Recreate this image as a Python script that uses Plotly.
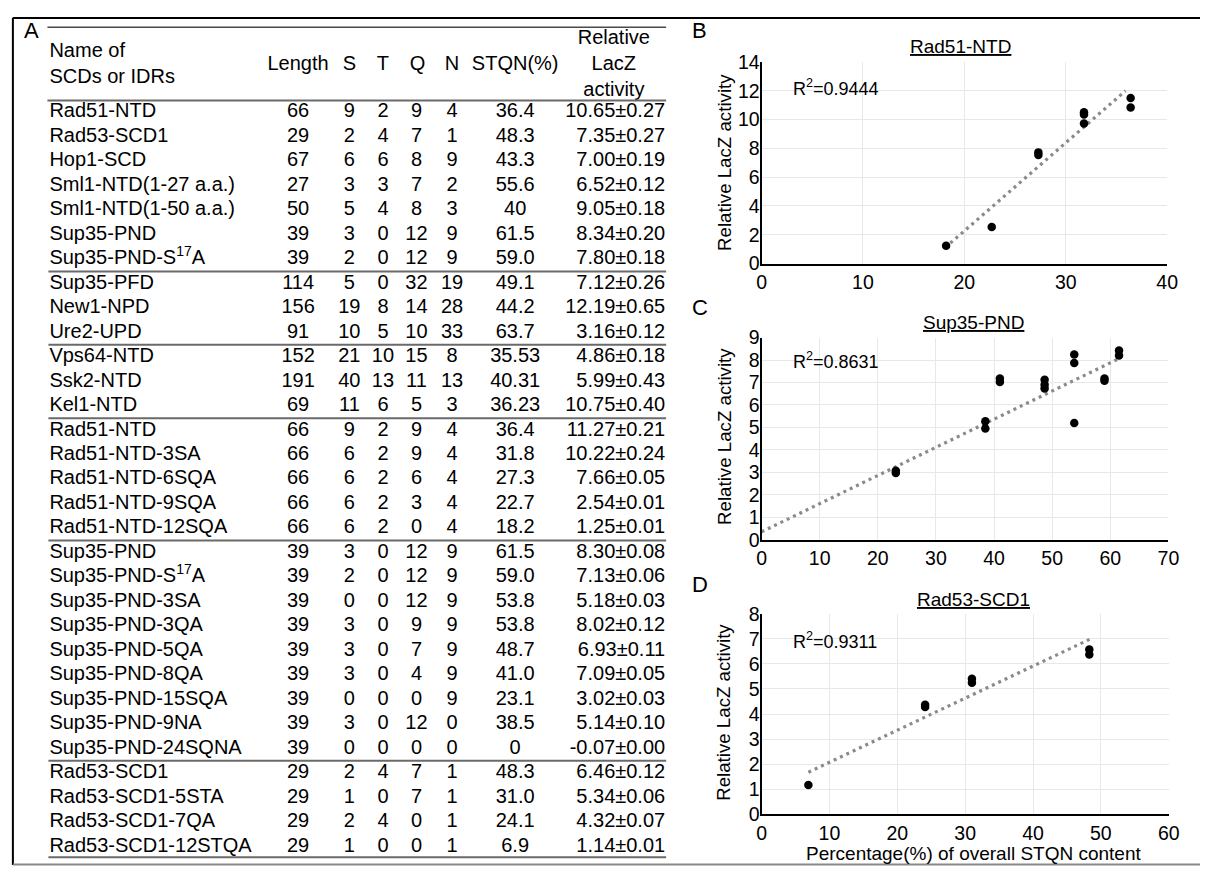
import plotly.graph_objects as go

W, H = 1211, 877
FONT = "Arial, 'Liberation Sans', Helvetica, sans-serif"

# ---------------- table data (panel A) ----------------
names = ["Rad51-NTD", "Rad53-SCD1", "Hop1-SCD", "Sml1-NTD(1-27 a.a.)", "Sml1-NTD(1-50 a.a.)",
         "Sup35-PND", "Sup35-PND-S<sup>17</sup>A",
         "Sup35-PFD", "New1-NPD", "Ure2-UPD",
         "Vps64-NTD", "Ssk2-NTD", "Kel1-NTD",
         "Rad51-NTD", "Rad51-NTD-3SA", "Rad51-NTD-6SQA", "Rad51-NTD-9SQA", "Rad51-NTD-12SQA",
         "Sup35-PND", "Sup35-PND-S<sup>17</sup>A", "Sup35-PND-3SA", "Sup35-PND-3QA", "Sup35-PND-5QA",
         "Sup35-PND-8QA", "Sup35-PND-15SQA", "Sup35-PND-9NA", "Sup35-PND-24SQNA",
         "Rad53-SCD1", "Rad53-SCD1-5STA", "Rad53-SCD1-7QA", "Rad53-SCD1-12STQA"]
length = [66, 29, 67, 27, 50, 39, 39, 114, 156, 91, 152, 191, 69, 66, 66, 66, 66, 66,
          39, 39, 39, 39, 39, 39, 39, 39, 39, 29, 29, 29, 29]
s_cnt = [9, 2, 6, 3, 5, 3, 2, 5, 19, 10, 21, 40, 11, 9, 6, 6, 6, 6,
         3, 2, 0, 3, 3, 3, 0, 3, 0, 2, 1, 2, 1]
t_cnt = [2, 4, 6, 3, 4, 0, 0, 0, 8, 5, 10, 13, 6, 2, 2, 2, 2, 2,
         0, 0, 0, 0, 0, 0, 0, 0, 0, 4, 0, 4, 0]
q_cnt = [9, 7, 8, 7, 8, 12, 12, 32, 14, 10, 15, 11, 5, 9, 9, 6, 3, 0,
         12, 12, 12, 9, 7, 4, 0, 12, 0, 7, 7, 0, 0]
n_cnt = [4, 1, 9, 2, 3, 9, 9, 19, 28, 33, 8, 13, 3, 4, 4, 4, 4, 4,
         9, 9, 9, 9, 9, 9, 9, 0, 0, 1, 1, 1, 1]
stqn = ["36.4", "48.3", "43.3", "55.6", "40", "61.5", "59.0", "49.1", "44.2", "63.7",
        "35.53", "40.31", "36.23", "36.4", "31.8", "27.3", "22.7", "18.2",
        "61.5", "59.0", "53.8", "53.8", "48.7", "41.0", "23.1", "38.5", "0",
        "48.3", "31.0", "24.1", "6.9"]
lacz = ["10.65±0.27", "7.35±0.27", "7.00±0.19", "6.52±0.12", "9.05±0.18", "8.34±0.20", "7.80±0.18",
        "7.12±0.26", "12.19±0.65", "3.16±0.12", "4.86±0.18", "5.99±0.43", "10.75±0.40",
        "11.27±0.21", "10.22±0.24", "7.66±0.05", "2.54±0.01", "1.25±0.01",
        "8.30±0.08", "7.13±0.06", "5.18±0.03", "8.02±0.12", "6.93±0.11", "7.09±0.05",
        "3.02±0.03", "5.14±0.10", "-0.07±0.00",
        "6.46±0.12", "5.34±0.06", "4.32±0.07", "1.14±0.01"]
group_ends = [7, 10, 13, 18, 27]   # rows after which a separator is drawn

# ---------------- scatter data (panels B, C, D) ----------------
B_x = [18.2, 22.7, 27.3, 27.3, 31.8, 31.8, 31.8, 36.4, 36.4]
B_y = [1.24, 2.53, 7.72, 7.54, 10.5, 10.36, 9.73, 11.49, 10.84]
B_trend_x = [18.1, 35.9]
B_trend_y = [1.1, 12.0]

C_x = [0, 23.1, 23.1, 38.5, 38.5, 41.0, 41.0, 48.7, 48.7, 48.7, 53.8, 53.8, 53.8, 59.0, 59.0, 61.5, 61.5]
C_y = [-0.07, 3.07, 2.97, 5.27, 4.95, 7.18, 7.02, 7.12, 6.90, 6.73, 8.25, 7.87, 5.20, 7.18, 7.08, 8.42, 8.20]
C_trend_x = [0, 61.7]
C_trend_y = [0.35, 8.09]

D_x = [6.9, 24.1, 24.1, 31.0, 31.0, 48.3, 48.3]
D_y = [1.17, 4.37, 4.28, 5.41, 5.25, 6.58, 6.38]
D_trend_x = [6.9, 48.5]
D_trend_y = [1.68, 7.0]

titles = ["Rad51-NTD", "Sup35-PND", "Rad53-SCD1"]
r2_labels = ["R<sup>2</sup>=0.9444", "R<sup>2</sup>=0.8631", "R<sup>2</sup>=0.9311"]
x_ranges = [[0, 40], [0, 70], [0, 60]]
y_ranges = [[0, 14], [0, 9], [0, 8]]
y_dticks = [2, 1, 1]
ytitle = "Relative LacZ activity"
xtitle = "Percentage(%) of overall STQN content"


def pxx(p):
    return p / W


def pxy(p):
    return 1 - p / H


fig = go.Figure()

# ---------------- panels B, C, D ----------------
panels = [
    (B_x, B_y, B_trend_x, B_trend_y),
    (C_x, C_y, C_trend_x, C_trend_y),
    (D_x, D_y, D_trend_x, D_trend_y),
]
# pixel geometry of plot areas: (left, right, top, bottom)
geom = [(766.7, 1177.7, 52.3, 259.0), (766.7, 1179.0, 335.0, 542.3), (766.7, 1179.3, 618.3, 824.0)]
title_pos = [(968.8, 36), (981.7, 320), (981.7, 604)]
r2_pos = [(796.7, 78), (796.7, 358), (796.7, 646)]
ytitle_y = [155, 436, 719]
letters = [("B", 704, 20), ("C", 704, 304), ("D", 704, 588)]

axis_common = dict(showgrid=True, gridcolor="#e8e8e8", gridwidth=1, showline=True,
                   linecolor="black", linewidth=2, ticks="", zeroline=False,
                   tickfont=dict(size=19.5, family=FONT, color="black"), fixedrange=True)

annotations = []
for i, (px_, py_, tx, ty) in enumerate(panels):
    sfx = "" if i == 0 else str(i + 1)
    xa, ya = "x" + sfx, "y" + sfx
    fig.add_trace(go.Scatter(x=tx, y=ty, mode="lines",
                             line=dict(color="#8a8a8a", width=3.2, dash="3px,4px"),
                             xaxis=xa, yaxis=ya, showlegend=False, hoverinfo="skip"))
    fig.add_trace(go.Scatter(x=px_, y=py_, mode="markers",
                             marker=dict(color="black", size=8.5),
                             cliponaxis=False, xaxis=xa, yaxis=ya, showlegend=False))
    l, r, t, b = geom[i]
    fig.layout["xaxis" + sfx] = dict(axis_common, domain=[pxx(l), pxx(r)], range=x_ranges[i],
                                      dtick=10, anchor=ya)
    fig.layout["yaxis" + sfx] = dict(axis_common, domain=[pxy(b), pxy(t)], range=y_ranges[i],
                                      dtick=y_dticks[i], anchor=xa, ticklabelstandoff=-4)
    annotations.append(dict(text="<u>" + titles[i] + "</u>", x=pxx(title_pos[i][0]), y=pxy(title_pos[i][1]),
                            xref="paper", yref="paper", xanchor="center", yanchor="middle",
                            showarrow=False, font=dict(size=19, family=FONT, color="black")))
    annotations.append(dict(text=r2_labels[i], x=pxx(r2_pos[i][0]), y=pxy(r2_pos[i][1]),
                            xref="paper", yref="paper", xanchor="left", yanchor="middle",
                            showarrow=False, font=dict(size=18, family=FONT, color="black")))
    annotations.append(dict(text=ytitle, x=pxx(728.5), y=pxy(ytitle_y[i]), textangle=-90,
                            xref="paper", yref="paper", xanchor="center", yanchor="middle",
                            showarrow=False, font=dict(size=18.7, family=FONT, color="black")))
    annotations.append(dict(text=letters[i][0], x=pxx(letters[i][1]), y=pxy(letters[i][2]),
                            xref="paper", yref="paper", xanchor="center", yanchor="middle",
                            showarrow=False, font=dict(size=22, family=FONT, color="black")))

annotations.append(dict(text=xtitle, x=pxx(981.7), y=pxy(864), xref="paper", yref="paper",
                        xanchor="center", yanchor="middle", showarrow=False,
                        font=dict(size=19, family=FONT, color="black")))
annotations.append(dict(text="A", x=pxx(26.5), y=pxy(20), xref="paper", yref="paper",
                        xanchor="center", yanchor="middle", showarrow=False,
                        font=dict(size=22, family=FONT, color="black")))

# ---------------- panel A table ----------------
ROW0, ROWH = 104.0, 25.1          # pixel centre of first row, row pitch
nrows = len(names)
rows = list(range(nrows))
tfont = dict(size=20, family=FONT, color="black")

col_x = {"name": 45, "len": 297, "s": 349, "t": 383, "q": 417, "n": 453, "stqn": 517, "lacz": 669}
columns = [
    (names, "name", "middle right"),
    ([str(v) for v in length], "len", "middle center"),
    ([str(v) for v in s_cnt], "s", "middle center"),
    ([str(v) for v in t_cnt], "t", "middle center"),
    ([str(v) for v in q_cnt], "q", "middle center"),
    ([str(v) for v in n_cnt], "n", "middle center"),
    (stqn, "stqn", "middle center"),
    (lacz, "lacz", "middle left"),
]
for texts, key, pos in columns:
    fig.add_trace(go.Scatter(x=[col_x[key]] * nrows, y=rows, text=texts, mode="text",
                             textposition=pos, textfont=tfont, xaxis="x4", yaxis="y4",
                             showlegend=False, hoverinfo="skip", cliponaxis=False))


def row_of(px):
    return (px - ROW0) / ROWH


hdr_y = row_of(55)
headers = [
    ("Name of<br>SCDs or IDRs", 45, "middle right"),
    ("Length", 297, "middle center"),
    ("S", 349, "middle center"),
    ("T", 383, "middle center"),
    ("Q", 418, "middle center"),
    ("N", 453, "middle center"),
    ("STQN(%)", 517, "middle center"),
    ("Relative<br>LacZ<br>activity", 617, "middle center"),
]
fig.add_trace(go.Scatter(x=[h[1] for h in headers], y=[hdr_y] * len(headers),
                         text=[h[0] for h in headers], mode="text",
                         textposition=[h[2] for h in headers], textfont=tfont,
                         xaxis="x4", yaxis="y4", showlegend=False, hoverinfo="skip",
                         cliponaxis=False))

shapes = []
# top and header rules
shapes.append(dict(type="line", xref="x4", yref="y4", x0=43, x1=670, y0=row_of(16.7), y1=row_of(16.7),
                   line=dict(color="#4a4a4a", width=1.5)))
shapes.append(dict(type="line", xref="x4", yref="y4", x0=43, x1=670, y0=row_of(91.7), y1=row_of(91.7),
                   line=dict(color="#6a6a6a", width=2)))
for g in group_ends:
    shapes.append(dict(type="line", xref="x4", yref="y4", x0=44, x1=670, y0=g - 0.5, y1=g - 0.5,
                       line=dict(color="#6a6a6a", width=2)))
shapes.append(dict(type="line", xref="x4", yref="y4", x0=44, x1=670, y0=row_of(868), y1=row_of(868),
                   line=dict(color="#6a6a6a", width=2)))

# outer frame (left, top, bottom)
shapes.append(dict(type="line", xref="paper", yref="paper", x0=pxx(8), x1=1, y0=pxy(7.3), y1=pxy(7.3),
                   line=dict(color="black", width=2)))
shapes.append(dict(type="line", xref="paper", yref="paper", x0=pxx(8), x1=pxx(8), y0=pxy(7), y1=pxy(876),
                   line=dict(color="black", width=2)))
shapes.append(dict(type="line", xref="paper", yref="paper", x0=pxx(8), x1=1, y0=pxy(875.5), y1=pxy(875.5),
                   line=dict(color="#888888", width=2)))

fig.update_layout(
    width=W, height=H,
    margin=dict(l=0, r=0, t=0, b=0),
    paper_bgcolor="white", plot_bgcolor="rgba(0,0,0,0)",
    font=dict(family=FONT, color="black"),
    showlegend=False,
    xaxis4=dict(domain=[0, 1], range=[0, W], visible=False, anchor="y4", fixedrange=True),
    yaxis4=dict(domain=[0, 1], range=[row_of(H), row_of(0)], visible=False, anchor="x4", fixedrange=True),
    annotations=annotations,
    shapes=shapes,
)

fig.write_html("out.html")
